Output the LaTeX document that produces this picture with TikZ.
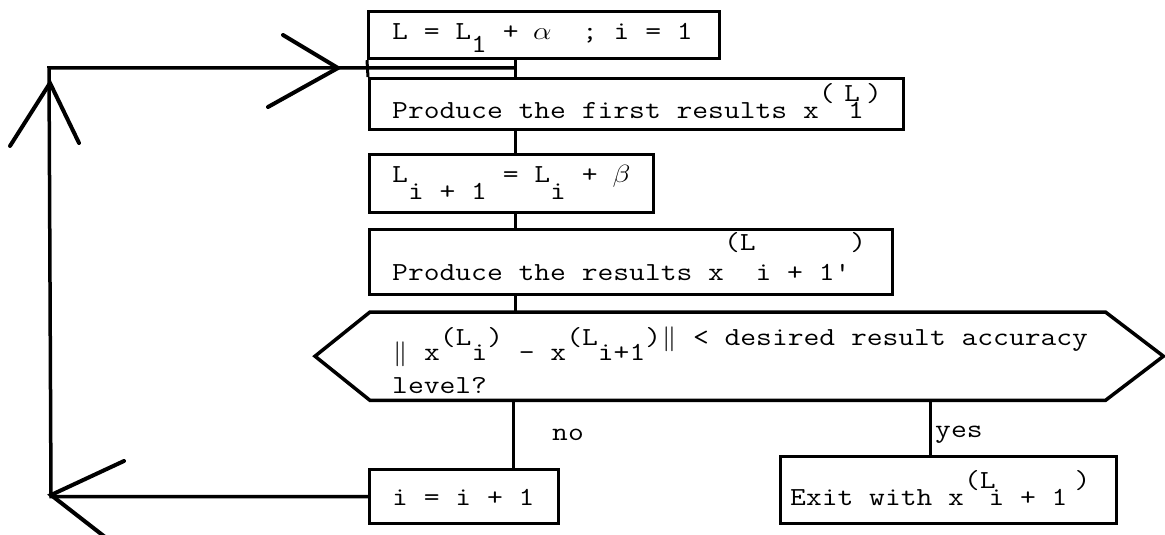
\documentclass[tikz,border=0pt]{standalone}
\usepackage{graphicx}
\usetikzlibrary{calc}
\newcommand\tw[1]{\scalebox{1.18}[1]{\fontsize{26}{30}\selectfont\ttfamily\frenchspacing #1}}
\newcommand\rz[2]{\raisebox{#1pt}{#2}}
\newcommand\slotm[1]{\makebox[0.525em]{$#1$}}
\begin{document}
\begin{tikzpicture}[x=1pt,y=-1pt,
  box/.style={draw, line width=3.2pt, inner sep=0pt, anchor=north west},
  lbl/.style={anchor=base west, inner sep=0pt},
  conn/.style={line width=3pt},
  hexline/.style={line width=3.5pt, line join=miter},
  loopline/.style={line width=3.5pt},
  wing/.style={line width=4pt, line cap=round}]
\useasboundingbox (0,0) rectangle (1165,535);
\fill[white] (0,0) rectangle (1165,535);
\clip (0,0) rectangle (1165,535);

% boxes
\node[box, minimum width=351, minimum height=47] (b1) at (367,10) {};
\node[box, minimum width=534, minimum height=51] (b2) at (368,77) {};
\node[box, minimum width=284, minimum height=58] (b3) at (368,153) {};
\node[box, minimum width=523, minimum height=65] (b4) at (368,228) {};
\node[box, minimum width=189, minimum height=54] (ii) at (368,468) {};
\node[box, minimum width=336, minimum height=67] (ex) at (779,455) {};
\node[draw=none, inner sep=0pt, anchor=north west, minimum width=735, minimum height=88] (dec) at (370,312) {};
\draw[hexline] (dec.north west) -- (dec.north east) -- ($(dec.east)+(58,0)$)
  -- (dec.south east) -- (dec.south west) -- ($(dec.west)+(-55,0)$) -- cycle;

% texts
\node[lbl] (t1) at (392,40) {\tw{L = L\rz{-13}{1} + \slotm{\alpha}~~; i = 1}};
\node[lbl] (t2) at (392,118) {\tw{Produce the first results x\rz{17}{(\kern8pt L}\kern-10pt 1\kern2pt\rz{17}{)}}};
\node[lbl] (t3) at (392,182) {\tw{L\rz{-17}{i + 1} = L\rz{-17}{i} + \slotm{\beta}}};
\node[lbl] (t4) at (392,280) {\tw{Produce the results x\rz{30}{(L}i + 1'\rz{30}{)}}};
\node[lbl] (t5) at (392,360) {\tw{\slotm{\|} x\rz{15}{(L}i\rz{15}{)} - x\rz{15}{(L}i+1\rz{15}{)\slotm{\|} < desired result accuracy}}};
\node[lbl] (t6) at (392,393) {\tw{level?}};
\node[lbl] (tno) at (552,440) {\tw{no}};
\node[lbl] (tyes) at (935,437) {\tw{yes}};
\node[lbl] (t7) at (392,505) {\tw{i = i + 1}};
\node[lbl] (t8) at (790,505) {\tw{Exit with x\rz{17}{(L}\kern-6pt i + 1\kern6pt\rz{17}{)}}};

% connectors
\coordinate (sp) at (515,0);
\coordinate (sp2) at (513,0);
\coordinate (sy) at (930,0);
\draw[conn] (b1.south west) -- (b2.north west);
\draw[conn] (b1.south -| sp) -- (b2.north -| sp);
\draw[conn] (b2.south -| sp) -- (b3.north -| sp);
\draw[conn] (b3.south -| sp) -- (b4.north -| sp);
\draw[conn] (b4.south -| sp) -- (dec.north -| sp);
\draw[conn] (dec.south -| sp2) -- (ii.north -| sp2);
\draw[conn] (dec.south -| sy) -- (ex.north -| sy);

% loop back
\coordinate (cBL) at (51,495);
\coordinate (cTL) at (49,68);
\coordinate (tipU) at (50,83);
\coordinate (tipR) at (338,68);
\draw[loopline] (ii.west) -- (cBL |- ii.west) -- (cTL) -- (sp |- cTL);
\draw[wing] (124,461) -- (cBL) -- (105,537);
\draw[wing] (10,146) -- (tipU) -- (79,143);
\draw[wing] (283,35) -- (tipR) -- (268,107);
\end{tikzpicture}
\end{document}
